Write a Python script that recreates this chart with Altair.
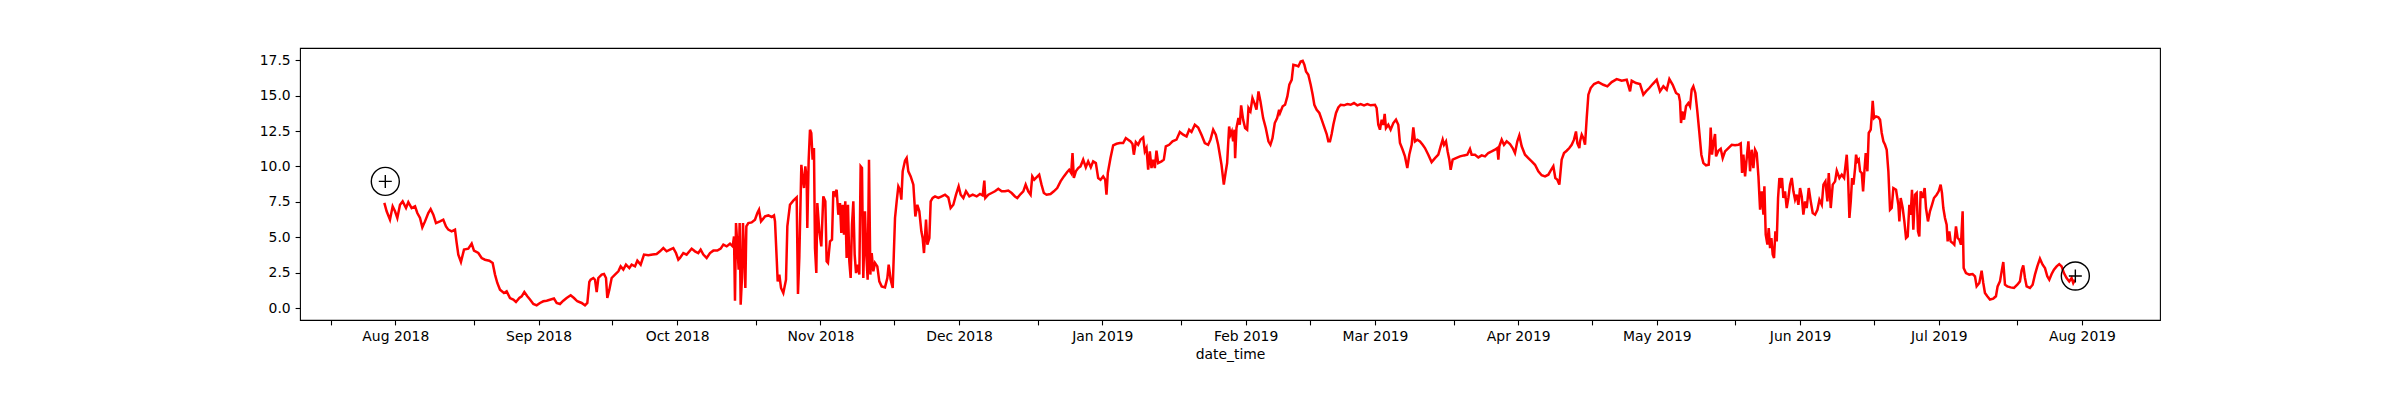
import altair as alt
import pandas as pd

# Day offsets from 2018-08-01 and the plotted value.
seg_jul_sep_2018 = [
    (-2.37, 7.43), (-1.87, 6.84), (-1.15, 6.25), (-0.57, 7.19), (-0.06, 6.84), (0.44, 6.37),
    (1.02, 7.30), (1.59, 7.54), (2.32, 7.07), (2.82, 7.49), (3.54, 7.07), (4.27, 7.19),
    (4.77, 6.72), (5.35, 6.37), (5.85, 5.71), (6.43, 6.13), (7.14, 6.72), (7.65, 7.00),
    (8.23, 6.60), (8.81, 6.01), (9.67, 6.13), (10.39, 6.25), (10.97, 5.78), (11.47, 5.55),
    (12.20, 5.43), (12.92, 5.55), (13.28, 4.61), (13.64, 3.79), (14.21, 3.27), (14.87, 4.14),
    (15.80, 4.21), (16.53, 4.56), (17.03, 4.07), (17.97, 3.90), (18.69, 3.55), (19.41, 3.43),
    (20.35, 3.36), (21.07, 3.20), (21.58, 2.38), (22.08, 1.79), (22.66, 1.32), (23.52, 1.08),
    (24.10, 1.20), (24.82, 0.73), (25.54, 0.62), (26.12, 0.45), (26.84, 0.73), (27.35, 0.85),
    (27.92, 1.15), (28.57, 0.85), (29.15, 0.62), (29.87, 0.31), (30.59, 0.21), (31.31, 0.38),
    (32.03, 0.50), (32.76, 0.54), (33.62, 0.62), (34.34, 0.69), (34.92, 0.38), (35.64, 0.31),
    (36.36, 0.54), (37.08, 0.73), (37.95, 0.92), (38.67, 0.73), (39.39, 0.50), (40.33, 0.38),
    (41.05, 0.21), (41.56, 0.38), (41.99, 1.86), (42.28, 2.02), (42.86, 2.14), (43.22, 2.02),
    (43.58, 1.15), (43.94, 2.14), (44.66, 2.38), (45.16, 2.42), (45.60, 2.14), (45.88, 0.73),
    (46.32, 1.32), (46.82, 2.14), (47.54, 2.38), (48.27, 2.61), (48.77, 2.96), (49.35, 2.73),
    (49.92, 3.08), (50.65, 2.84), (51.15, 3.08), (51.87, 2.96), (52.38, 3.36), (53.10, 3.08),
    (53.82, 3.79), (54.75, 3.74), (55.69, 3.79), (56.55, 3.83), (57.28, 4.02), (58.00, 4.25),
    (58.72, 4.02), (59.44, 4.14), (60.16, 4.25), (60.74, 3.90), (61.25, 3.43),
]

seg_oct_dec_2018 = [
    (61.61, 3.55), (62.33, 3.90), (63.05, 3.79), (64.13, 4.21), (64.85, 4.02), (65.57, 3.90),
    (66.08, 4.14), (66.66, 3.79), (67.38, 3.55), (68.10, 3.90), (68.82, 4.07), (69.69, 4.07),
    (70.41, 4.21), (70.99, 4.49), (71.71, 4.37), (72.43, 4.56), (73.01, 4.37), (73.30, 5.07),
    (73.51, 0.54), (73.73, 6.01), (74.02, 4.49), (74.30, 2.73), (74.52, 6.01), (74.74, 0.26),
    (75.02, 2.14), (75.24, 6.01), (75.53, 3.55), (75.75, 1.44), (75.97, 5.78), (76.40, 6.01),
    (77.12, 6.06), (77.84, 6.25), (78.35, 6.72), (78.71, 6.95), (79.14, 6.13), (80.01, 6.48),
    (80.73, 6.55), (81.45, 6.44), (81.95, 6.55), (82.17, 6.13), (82.53, 3.55), (82.75, 1.90),
    (83.11, 2.38), (83.47, 1.44), (83.97, 1.08), (84.55, 2.02), (84.84, 5.78), (85.41, 7.30),
    (86.13, 7.59), (86.86, 7.82), (87.14, 1.01), (87.43, 3.55), (87.87, 10.12), (88.15, 9.19),
    (88.44, 8.48), (88.73, 10.01), (89.02, 9.19), (89.16, 5.66), (89.45, 10.41), (89.74, 12.59),
    (90.02, 12.36), (90.31, 10.48), (90.60, 11.30), (90.82, 4.25), (91.11, 2.49), (91.33, 7.42),
    (91.76, 5.43), (92.19, 4.37), (92.62, 7.89), (93.06, 7.54), (93.34, 3.31), (93.63, 3.20),
    (94.07, 4.72), (94.50, 4.84), (94.79, 8.25), (95.15, 8.01), (95.51, 8.36), (95.87, 6.60),
    (96.23, 7.42), (96.52, 5.31), (96.81, 7.30), (97.10, 5.19), (97.38, 7.54), (97.67, 3.55),
    (97.96, 7.30), (98.25, 3.31), (98.54, 2.14), (98.83, 5.90), (99.12, 7.54), (99.41, 3.79),
    (99.70, 2.49), (100.06, 3.08), (100.42, 2.38), (100.70, 10.01), (100.99, 9.89), (101.28, 2.14),
    (101.64, 6.84), (101.93, 3.79), (102.22, 2.02), (102.51, 10.48), (102.80, 2.38), (103.09, 3.90),
    (103.45, 2.61), (103.81, 3.20), (104.31, 2.96), (104.74, 1.90), (105.25, 1.55), (105.97, 1.48),
    (106.48, 2.14), (106.77, 3.08), (107.20, 2.02), (107.64, 1.44), (108.14, 6.37), (108.50, 7.54),
    (108.86, 8.60), (109.22, 8.36), (109.51, 7.66), (109.80, 9.66), (110.30, 10.41), (110.66, 10.60),
    (111.02, 9.66), (111.53, 9.30), (112.11, 8.72), (112.54, 6.48), (112.97, 7.30), (113.40, 6.84),
    (113.84, 5.43), (114.12, 4.96), (114.41, 3.90), (114.85, 6.25), (115.14, 4.49), (115.57, 4.96),
    (115.86, 7.54), (116.29, 7.78), (116.80, 7.89), (117.52, 7.78), (118.24, 7.89), (118.96, 8.01),
    (119.68, 7.82), (120.18, 7.07), (120.76, 7.30), (121.34, 8.01), (121.91, 8.60), (122.35, 8.01),
    (122.93, 7.78), (123.50, 8.25), (124.23, 7.89), (124.95, 8.01), (125.81, 7.89), (126.53, 8.06),
]

seg_dec_feb_2019 = [
    (127.11, 7.96), (127.47, 9.00), (127.68, 7.78), (128.33, 8.01), (129.05, 8.13), (129.77, 8.25),
    (130.49, 8.43), (131.21, 8.25), (131.93, 8.25), (132.65, 8.30), (133.38, 8.13), (134.10, 7.89),
    (134.60, 7.78), (135.32, 8.06), (135.90, 8.25), (136.41, 8.72), (136.97, 8.25), (137.48, 8.01),
    (137.84, 9.30), (138.27, 9.07), (138.76, 9.23), (139.34, 9.42), (139.84, 8.72), (140.35, 8.13),
    (140.93, 8.01), (141.79, 8.06), (142.51, 8.25), (143.24, 8.48), (143.96, 8.95), (144.68, 9.30),
    (145.40, 9.61), (145.83, 9.77), (146.26, 9.54), (146.55, 10.95), (146.84, 9.19), (147.27, 9.66),
    (147.78, 9.89), (148.28, 10.01), (148.86, 10.48), (149.43, 9.94), (149.94, 10.36), (150.51, 9.94),
    (151.02, 10.36), (151.60, 10.24), (152.10, 9.19), (152.61, 9.07), (153.18, 9.30), (153.62, 9.07),
    (153.90, 8.01), (154.19, 9.54), (154.77, 10.59), (155.35, 11.49), (156.07, 11.60), (156.79, 11.65),
    (157.51, 11.65), (158.09, 12.00), (158.59, 11.89), (159.10, 11.77), (159.53, 11.58), (159.82, 10.83),
    (160.25, 11.72), (160.76, 11.53), (161.26, 11.89), (161.84, 12.05), (162.20, 11.06), (162.56, 11.30),
    (162.92, 9.77), (163.28, 11.06), (163.64, 9.89), (164.00, 10.48), (164.36, 9.89), (164.72, 11.11),
    (165.09, 10.24), (165.81, 10.36), (166.31, 10.48), (166.74, 11.42), (167.46, 11.53), (168.19, 11.77),
    (169.05, 11.89), (169.77, 12.43), (170.50, 12.24), (171.22, 12.12), (171.79, 12.59), (172.30, 12.43),
    (173.02, 12.94), (173.74, 12.75), (174.46, 12.24), (175.18, 11.65), (175.90, 11.53), (176.41, 11.89),
    (176.99, 12.59), (177.56, 12.24), (178.07, 11.53), (178.43, 10.83), (178.79, 10.12), (179.29, 8.72),
    (179.72, 9.66), (180.01, 10.24), (180.44, 12.82), (180.73, 12.24), (181.02, 12.47), (181.31, 11.77),
    (181.60, 12.59), (181.74, 10.59), (182.03, 12.71), (182.46, 13.41), (182.75, 12.94), (183.04, 14.31),
    (183.47, 13.30), (183.90, 12.71), (184.34, 12.59), (184.63, 14.12), (185.06, 13.89), (185.49, 14.82),
    (185.92, 14.47), (186.36, 14.00), (186.79, 15.29), (187.22, 14.59), (187.80, 13.41), (188.37, 12.71),
    (188.95, 11.77), (189.38, 11.53), (189.82, 12.00), (190.32, 13.06), (190.83, 13.41), (191.26, 14.00),
]

seg_feb_apr_2019 = [
    (191.45, 13.77), (192.03, 14.24), (192.54, 14.35), (193.04, 14.94), (193.47, 15.76), (193.98, 16.11),
    (194.34, 17.17), (194.91, 17.12), (195.42, 17.05), (195.92, 17.40), (196.36, 17.45), (196.72, 17.17),
    (197.08, 16.70), (197.58, 16.47), (198.09, 15.76), (198.52, 15.06), (198.88, 14.35), (199.39, 14.00),
    (199.96, 13.77), (200.47, 13.30), (200.97, 12.82), (201.55, 12.29), (201.91, 11.77), (202.27, 11.77),
    (202.63, 12.29), (202.99, 12.94), (203.57, 13.77), (204.07, 14.16), (204.58, 14.35), (205.30, 14.31),
    (206.02, 14.40), (206.74, 14.35), (207.46, 14.47), (208.18, 14.31), (208.90, 14.40), (209.63, 14.31),
    (210.35, 14.40), (211.07, 14.31), (212.00, 14.35), (212.36, 14.12), (212.72, 12.94), (213.08, 12.59),
    (213.45, 13.30), (213.81, 12.94), (214.10, 13.70), (214.38, 12.71), (214.89, 12.94), (215.39, 12.59),
    (215.97, 13.06), (216.55, 13.30), (217.05, 12.94), (217.41, 11.65), (217.99, 11.18), (218.49, 10.71),
    (219.00, 9.89), (219.43, 10.83), (219.94, 11.53), (220.30, 12.75), (220.66, 11.77), (221.16, 11.89),
    (221.74, 11.77), (222.32, 11.53), (222.82, 11.30), (223.54, 10.83), (224.26, 10.31), (224.99, 10.59),
    (225.71, 10.83), (226.21, 11.42), (226.65, 11.89), (226.94, 11.53), (227.37, 11.77), (227.73, 11.06),
    (228.09, 10.48), (228.38, 9.77), (228.81, 10.48), (229.53, 10.59), (230.40, 10.71), (231.26, 10.78),
    (231.98, 10.83), (232.56, 11.23), (232.92, 10.83), (233.64, 10.83), (234.37, 10.64), (235.09, 10.78),
    (235.81, 10.71), (236.53, 10.95), (237.25, 11.06), (237.97, 11.18), (238.48, 11.30), (238.70, 10.48),
    (238.91, 11.42), (239.42, 11.89), (239.92, 11.53), (240.50, 11.77), (241.22, 11.58), (241.80, 11.30),
    (242.30, 10.95), (242.81, 11.77), (243.24, 12.19), (243.75, 11.42), (244.47, 10.83), (245.19, 10.59),
    (245.91, 10.36), (246.63, 10.12), (247.35, 9.66), (248.07, 9.38), (248.80, 9.30), (249.52, 9.42),
    (250.02, 9.70), (250.60, 10.01), (251.03, 9.19), (251.46, 9.07), (251.90, 8.72), (252.40, 10.48),
    (252.91, 10.95), (253.49, 11.11), (254.06, 11.30), (254.57, 11.53), (255.07, 11.89), (255.50, 12.47),
    (255.79, 11.65), (256.23, 11.30),
]

seg_apr_jun_2019 = [
    (256.37, 11.77), (256.74, 12.24), (257.10, 12.00), (257.46, 11.53), (257.82, 13.41), (258.18, 15.06),
    (258.68, 15.53), (259.41, 15.81), (260.34, 15.95), (261.42, 15.76), (262.29, 15.65), (263.23, 15.95),
    (264.31, 16.16), (265.39, 16.04), (266.48, 16.11), (267.20, 15.29), (267.56, 16.04), (268.49, 15.88),
    (269.36, 15.81), (270.08, 15.06), (270.65, 15.29), (271.37, 15.53), (272.10, 15.81), (272.96, 16.11),
    (273.68, 15.29), (274.41, 15.65), (275.13, 15.41), (275.71, 16.16), (276.43, 15.76), (277.15, 15.18),
    (277.73, 15.06), (278.01, 14.59), (278.23, 13.06), (278.52, 13.88), (278.88, 13.30), (279.31, 14.24),
    (279.82, 14.47), (280.18, 14.24), (280.54, 15.41), (280.90, 15.65), (281.33, 15.18), (281.76, 13.88),
    (282.20, 12.36), (282.63, 10.83), (283.07, 10.24), (283.64, 10.08), (284.22, 10.12), (284.51, 11.53),
    (284.65, 12.75), (284.94, 10.83), (285.23, 11.65), (285.59, 12.29), (285.81, 10.71), (286.31, 11.11),
    (286.82, 11.25), (287.25, 10.59), (287.76, 11.06), (288.48, 11.30), (289.20, 11.53), (289.92, 11.49),
    (290.64, 11.53), (291.15, 11.63), (291.44, 9.54), (291.73, 10.83), (292.09, 9.30), (292.45, 10.59),
    (292.81, 11.77), (293.17, 9.66), (293.53, 11.18), (293.89, 9.89), (294.25, 11.18), (294.61, 10.95),
    (294.98, 9.30), (295.34, 6.95), (295.70, 8.25), (296.06, 6.60), (296.27, 8.60), (296.56, 5.19),
    (296.92, 4.49), (297.21, 5.66), (297.50, 4.25), (297.79, 4.96), (298.07, 3.79), (298.36, 3.55),
    (298.65, 5.43), (298.94, 4.72), (299.23, 7.78), (299.52, 9.19), (299.81, 8.48), (300.09, 9.19),
    (300.38, 7.78), (300.74, 8.25), (301.10, 7.07), (301.46, 7.78), (301.82, 8.72), (302.19, 9.19),
    (302.55, 8.25), (302.91, 7.66), (303.27, 8.01), (303.63, 7.30), (303.99, 8.48), (304.35, 7.89),
    (304.71, 6.60), (305.07, 7.54), (305.43, 7.07), (305.87, 8.48), (306.30, 7.54), (306.73, 6.72),
    (307.24, 6.60), (307.75, 6.95), (308.18, 7.66), (308.69, 7.30), (309.05, 8.72), (309.48, 8.95),
    (309.91, 7.54), (310.20, 9.54), (310.63, 7.07), (311.06, 8.72), (311.57, 8.95), (311.93, 9.70),
    (312.51, 9.19), (313.01, 9.42), (313.52, 9.19), (314.09, 10.83), (314.38, 9.19), (314.67, 6.37),
    (314.96, 7.54), (315.25, 9.19), (315.54, 8.72), (315.90, 9.89), (316.11, 10.83), (316.40, 10.36),
    (316.69, 10.48), (316.98, 9.66), (317.34, 9.54), (317.63, 8.25), (317.91, 9.66), (318.20, 10.95),
    (318.56, 9.66), (318.85, 12.36), (319.28, 12.59), (319.57, 13.88), (319.71, 14.63), (320.00, 13.41),
    (320.43, 13.53), (320.94, 13.46),
]

seg_jun_jul_2019 = [
    (321.30, 13.30), (321.66, 12.36), (322.02, 11.77), (322.38, 11.53), (322.74, 11.18), (323.10, 9.66),
    (323.46, 6.95), (323.82, 7.07), (324.18, 8.48), (324.76, 8.36), (325.26, 7.30), (325.48, 6.13),
    (325.77, 7.78), (326.20, 7.07), (326.56, 6.13), (326.92, 4.96), (327.28, 5.07), (327.64, 7.30),
    (327.93, 6.60), (328.21, 8.36), (328.50, 5.55), (328.86, 8.01), (329.22, 8.13), (329.51, 5.43),
    (329.80, 5.07), (330.08, 8.25), (330.52, 7.78), (330.95, 8.48), (331.24, 7.07), (331.67, 6.13),
    (332.10, 6.84), (332.54, 7.30), (332.97, 7.78), (333.55, 8.01), (333.98, 8.25), (334.41, 8.72),
    (334.70, 8.13), (334.99, 7.07), (335.35, 6.37), (335.71, 5.90), (335.93, 4.72), (336.29, 5.43),
    (336.58, 4.72), (337.01, 4.61), (337.37, 4.49), (337.73, 5.78), (338.09, 4.96), (338.45, 4.84),
    (338.81, 4.49), (339.17, 6.84), (339.39, 2.84), (339.89, 2.49), (340.61, 2.38), (341.33, 2.42),
    (341.84, 2.26), (342.20, 1.55), (342.78, 1.79), (343.28, 2.66), (343.64, 1.79), (344.00, 1.08),
    (344.51, 0.85), (345.08, 0.62), (345.80, 0.69), (346.38, 0.85), (346.74, 1.55), (347.25, 1.90),
    (347.61, 2.61), (347.97, 3.27), (348.33, 1.67), (348.83, 1.55), (349.55, 1.48), (350.28, 1.44),
    (351.00, 1.67), (351.57, 1.90), (351.93, 2.66), (352.29, 3.03), (352.66, 2.14), (353.02, 1.55),
    (353.74, 1.44), (354.32, 1.67), (354.82, 2.38), (355.33, 2.96), (355.90, 3.50), (356.48, 3.08),
    (356.99, 2.84), (357.49, 2.26), (357.92, 2.02), (358.43, 2.42), (358.93, 2.73), (359.51, 2.96),
    (360.08, 3.12), (360.59, 2.96), (361.09, 2.49), (361.67, 2.14), (362.24, 1.90), (362.75, 2.14),
    (363.11, 1.79), (363.47, 2.02),
]

marker_days = [-2.16, 363.56]
marker_values = [8.95, 2.28]

tick_dates = [
    (2018, 7, 18), (2018, 8, 1), (2018, 8, 18), (2018, 9, 1), (2018, 9, 17), (2018, 10, 1),
    (2018, 10, 18), (2018, 11, 1), (2018, 11, 17), (2018, 12, 1), (2018, 12, 18), (2019, 1, 1),
    (2019, 1, 18), (2019, 2, 1), (2019, 2, 15), (2019, 3, 1), (2019, 3, 18), (2019, 4, 1),
    (2019, 4, 17), (2019, 5, 1), (2019, 5, 18), (2019, 6, 1), (2019, 6, 17), (2019, 7, 1),
    (2019, 7, 18), (2019, 8, 1),
]
y_ticks = [0.0, 2.5, 5.0, 7.5, 10.0, 12.5, 15.0, 17.5]

origin = pd.Timestamp("2018-08-01")
pairs = (seg_jul_sep_2018 + seg_oct_dec_2018 + seg_dec_feb_2019 +
         seg_feb_apr_2019 + seg_apr_jun_2019 + seg_jun_jul_2019)
line_df = pd.DataFrame(pairs, columns=["day", "value"])
line_df["date_time"] = (origin + pd.to_timedelta(line_df["day"], unit="D")).dt.round("min")
line_df = line_df[["date_time", "value"]]

mark_df = pd.DataFrame({"day": marker_days, "value": marker_values})
mark_df["date_time"] = (origin + pd.to_timedelta(mark_df["day"], unit="D")).dt.round("min")
mark_df = mark_df[["date_time", "value"]]

FONT = "DejaVu Sans"

x_enc = alt.X(
    "date_time:T",
    title="date_time",
    scale=alt.Scale(domain=[
        alt.DateTime(year=2018, month=7, date=11, hours=9, minutes=7),
        alt.DateTime(year=2019, month=8, date=17, hours=21, minutes=7),
    ]),
    axis=alt.Axis(
        values=[alt.DateTime(year=y, month=m, date=d) for (y, m, d) in tick_dates],
        labelExpr="date(datum.value) == 1 ? timeFormat(datum.value, '%b %Y') : ''",
        labelOverlap=False,
        labelFlush=False,
        grid=False,
    ),
)
y_enc = alt.Y(
    "value:Q",
    title=None,
    scale=alt.Scale(domain=[-0.82, 18.35], nice=False, zero=False),
    axis=alt.Axis(
        values=y_ticks,
        labelExpr="format(datum.value, '.1f')",
        grid=False,
        labelOverlap=False,
        labelFlush=False,
        labelBound=False,
    ),
)

line = alt.Chart(line_df).mark_line(color="#ff0000", strokeWidth=2.5, clip=True).encode(
    x=x_enc, y=y_enc
)
circles = alt.Chart(mark_df).mark_point(
    shape="circle", filled=False, size=784, color="black", strokeWidth=1.4, opacity=1
).encode(x=x_enc, y=y_enc)
pluses = alt.Chart(mark_df).mark_point(
    shape="M-1,0L1,0M0,-1L0,1", filled=False, size=169, color="black", strokeWidth=1.4, opacity=1
).encode(x=x_enc, y=y_enc)

chart = alt.layer(line, circles, pluses).properties(
    width=1860,
    height=272,
    autosize=alt.AutoSizeParams(type="none"),
    padding={"left": 292, "top": 40, "right": 20, "bottom": 60},
    background="white",
).configure_view(
    stroke="black", strokeWidth=1.1
).configure_axis(
    domain=False,
    tickColor="black",
    tickWidth=1.1,
    tickSize=4.9,
    labelFont=FONT,
    labelFontSize=13.9,
    labelColor="black",
    labelPadding=4.9,
    labelOverlap=False,
    titleFont=FONT,
    titleFontSize=13.9,
    titleFontWeight="normal",
    titleColor="black",
    titlePadding=4,
)

chart.save("out.html", embed_options={"renderer": "svg", "actions": False})
